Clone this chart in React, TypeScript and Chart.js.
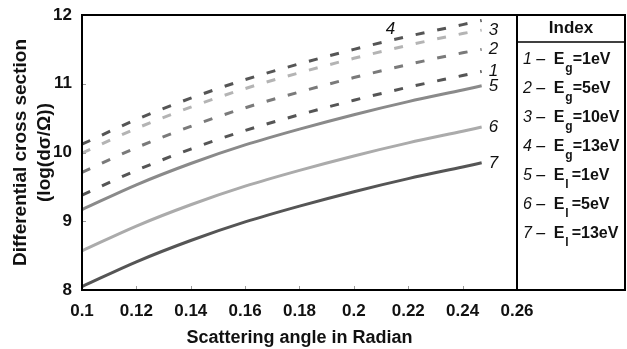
import React, { useEffect, useRef } from 'react';
import { Chart, registerables } from 'chart.js';
Chart.register(...registerables);

// ---- data ----
const angles = [0.1, 0.12, 0.14, 0.16, 0.18, 0.2, 0.22, 0.24, 0.247];
const curve1 = [9.38, 9.74, 10.05, 10.32, 10.55, 10.76, 10.95, 11.12, 11.18];
const curve2 = [9.71, 10.07, 10.38, 10.65, 10.88, 11.09, 11.28, 11.45, 11.5];
const curve3 = [9.99, 10.35, 10.66, 10.93, 11.16, 11.37, 11.56, 11.73, 11.78];
const curve4 = [10.12, 10.48, 10.79, 11.06, 11.29, 11.5, 11.69, 11.86, 11.92];
const curve5 = [9.17, 9.53, 9.84, 10.11, 10.34, 10.55, 10.74, 10.91, 10.97];
const curve6 = [8.57, 8.93, 9.24, 9.51, 9.74, 9.95, 10.14, 10.31, 10.37];
const curve7 = [8.05, 8.41, 8.72, 8.99, 9.22, 9.43, 9.62, 9.79, 9.85];

const curveNumbers = ['1', '2', '3', '4', '5', '6', '7'];
const legendSymbols = ['E', 'E', 'E', 'E', 'E', 'E', 'E'];
const legendSubscripts = ['g', 'g', 'g', 'g', 'l', 'l', 'l'];
const legendValues = ['=1eV', '=5eV', '=10eV', '=13eV', '=1eV', '=5eV', '=13eV'];
const legendTitle = 'Index';

const xTicks = [0.1, 0.12, 0.14, 0.16, 0.18, 0.2, 0.22, 0.24, 0.26];
const yTicks = [8, 9, 10, 11, 12];
const xTitle = 'Scattering angle in Radian';
const yTitle = ['Differential cross section', '(log(dσ/Ω))'];

// ---- styles ----
const FONT = "'Liberation Sans', Arial, sans-serif";
const curveStyles = [
  { color: '#555555', dash: [9, 13] },
  { color: '#7a7a7a', dash: [9, 13] },
  { color: '#b4b4b4', dash: [9, 13] },
  { color: '#555555', dash: [9, 13] },
  { color: '#8a8a8a', dash: [] as number[] },
  { color: '#ababab', dash: [] as number[] },
  { color: '#555555', dash: [] as number[] },
];
// label for curve 4 is placed above the curve, others at the curve end
const label4Anchor = { x: 0.2117, y: 11.79 };

const allCurves = [curve1, curve2, curve3, curve4, curve5, curve6, curve7];

const overlayPlugin = {
  id: 'overlay',
  afterDraw(chart: any) {
    const { ctx, chartArea: ca, scales } = chart;
    const xs = scales.x;
    const ys = scales.y;
    ctx.save();
    // inner tick marks
    ctx.strokeStyle = '#9a9a9a';
    ctx.lineWidth = 1;
    xTicks.slice(1, -1).forEach((v) => {
      const px = Math.round(xs.getPixelForValue(v)) + 0.5;
      ctx.beginPath();
      ctx.moveTo(px, ca.bottom);
      ctx.lineTo(px, ca.bottom - 4);
      ctx.stroke();
    });
    yTicks.slice(1, -1).forEach((v) => {
      const py = Math.round(ys.getPixelForValue(v)) + 0.5;
      ctx.beginPath();
      ctx.moveTo(ca.left, py);
      ctx.lineTo(ca.left + 4, py);
      ctx.stroke();
    });
    // plot border
    ctx.strokeStyle = '#000';
    ctx.lineWidth = 2;
    ctx.strokeRect(ca.left, ca.top, ca.right - ca.left, ca.bottom - ca.top);

    // curve labels
    ctx.fillStyle = '#111';
    ctx.font = `italic 17px ${FONT}`;
    ctx.textBaseline = 'middle';
    ctx.textAlign = 'left';
    allCurves.forEach((c, i) => {
      if (i === 3) {
        ctx.fillText(
          curveNumbers[i],
          xs.getPixelForValue(label4Anchor.x),
          ys.getPixelForValue(label4Anchor.y)
        );
      } else {
        const lx = xs.getPixelForValue(angles[angles.length - 1]) + 7;
        const ly = ys.getPixelForValue(c[c.length - 1]);
        ctx.fillText(curveNumbers[i], lx, ly);
      }
    });

    // legend panel
    const L = ca.right;
    const R = chart.width - 2;
    ctx.strokeStyle = '#000';
    ctx.lineWidth = 2;
    ctx.strokeRect(L, ca.top, R - L, ca.bottom - ca.top);
    ctx.lineWidth = 1.5;
    ctx.beginPath();
    ctx.moveTo(L, ca.top + 27);
    ctx.lineTo(R, ca.top + 27);
    ctx.stroke();
    ctx.fillStyle = '#111';
    ctx.font = `bold 17px ${FONT}`;
    ctx.textAlign = 'center';
    ctx.fillText(legendTitle, (L + R) / 2, ca.top + 13);
    ctx.textAlign = 'left';
    curveNumbers.forEach((n, i) => {
      const y = ca.top + 45 + i * 29;
      let x = L + 6;
      ctx.font = `italic 16px ${FONT}`;
      ctx.fillText(n + ' –', x, y);
      x += ctx.measureText(n + ' – ').width + 4;
      ctx.font = `bold 16px ${FONT}`;
      ctx.fillText(legendSymbols[i], x, y);
      x += ctx.measureText(legendSymbols[i]).width + 1;
      ctx.font = `bold 12px ${FONT}`;
      ctx.fillText(legendSubscripts[i], x, y + 9);
      x += ctx.measureText(legendSubscripts[i]).width + (legendSubscripts[i] === 'l' ? 3 : 0);
      ctx.font = `bold 16px ${FONT}`;
      ctx.fillText(legendValues[i], x, y);
    });
    ctx.restore();
  },
};

export default function App() {
  const ref = useRef<HTMLCanvasElement>(null);
  useEffect(() => {
    document.body.style.margin = '0';
    const canvas = ref.current!;
    const datasets = allCurves.map((c, i) => ({
      label: curveNumbers[i],
      data: c.map((v, j) => ({ x: angles[j], y: v })),
      borderColor: curveStyles[i].color,
      borderDash: curveStyles[i].dash,
      borderWidth: 3,
      pointRadius: 0,
      fill: false,
      cubicInterpolationMode: 'monotone' as const,
      borderCapStyle: 'butt' as const,
    }));
    const chart = new Chart(canvas, {
      type: 'line',
      data: { datasets },
      options: {
        animation: false,
        responsive: false,
        devicePixelRatio: 1,
        layout: { padding: { top: 15, right: 110, left: 0, bottom: 0 } },
        plugins: { legend: { display: false }, tooltip: { enabled: false } },
        scales: {
          x: {
            type: 'linear',
            min: 0.1,
            max: 0.26,
            afterBuildTicks: (s: any) => {
              s.ticks = xTicks.map((v) => ({ value: v }));
            },
            afterFit: (s: any) => {
              s.height = 59;
            },
            grid: { display: false },
            border: { display: false },
            ticks: {
              color: '#111',
              padding: 3,
              maxRotation: 0,
              autoSkip: false,
              font: { family: FONT, size: 17, weight: 'bold' },
              callback: (v: any) => String(Number(Number(v).toFixed(2))),
            },
            title: {
              display: true,
              text: xTitle,
              color: '#111',
              font: { family: FONT, size: 18, weight: 'bold' },
              padding: { top: 0, bottom: 0 },
            },
          },
          y: {
            type: 'linear',
            min: 8,
            max: 12,
            afterBuildTicks: (s: any) => {
              s.ticks = yTicks.map((v) => ({ value: v }));
            },
            afterFit: (s: any) => {
              s.width = 82;
            },
            grid: { display: false },
            border: { display: false },
            ticks: {
              color: '#111',
              padding: 2,
              font: { family: FONT, size: 17, weight: 'bold' },
            },
            title: {
              display: true,
              text: yTitle,
              color: '#111',
              font: { family: FONT, size: 19, weight: 'bold', lineHeight: 1.3 },
              padding: { top: 8, bottom: 0 },
            },
          },
        },
      },
      plugins: [overlayPlugin],
    });
    return () => chart.destroy();
  }, []);
  return <canvas ref={ref} width={627} height={349} style={{ display: 'block', width: 627, height: 349 }} />;
}
